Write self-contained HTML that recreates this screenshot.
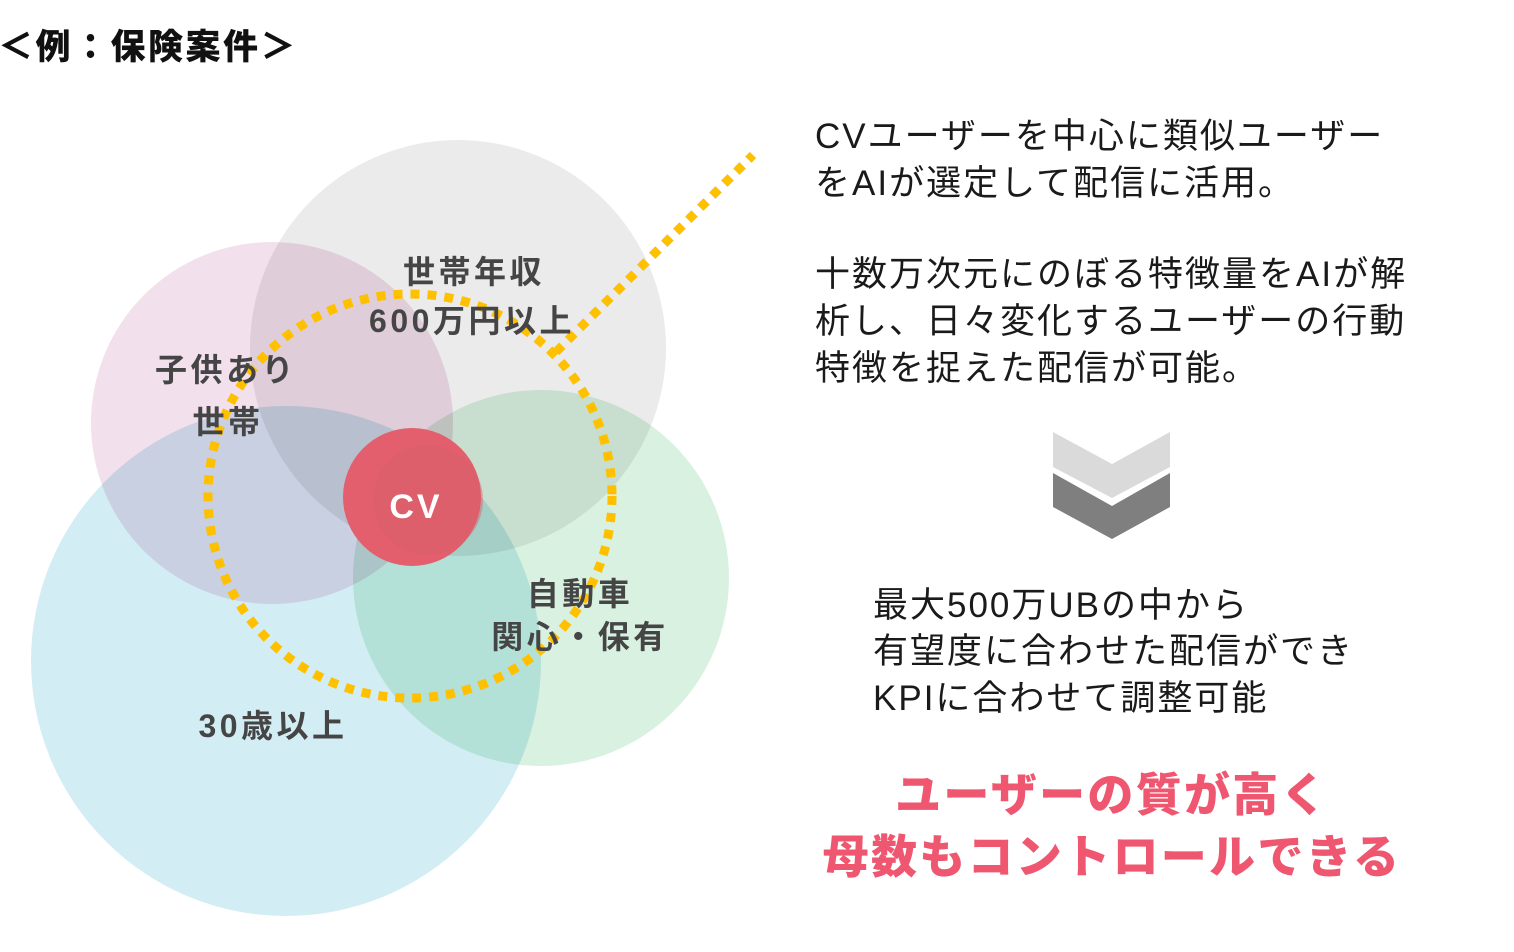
<!DOCTYPE html>
<html>
<head>
<meta charset="utf-8">
<style>
  html,body{margin:0;padding:0;background:#fff;}
  body{width:1514px;height:952px;overflow:hidden;}
  svg{display:block;isolation:isolate;}
  .jp{font-family:"Liberation Sans","Noto Sans CJK JP",sans-serif;}
  .lbl{font-family:"Liberation Sans","Noto Sans CJK JP",sans-serif;font-weight:bold;font-size:32px;fill:#454545;letter-spacing:3.5px;}
  .rt{font-family:"Liberation Sans","Noto Sans CJK JP",sans-serif;font-size:35px;fill:#1a1a1a;letter-spacing:2px;}
  .red{font-family:"Liberation Sans","Noto Sans CJK JP",sans-serif;font-weight:900;font-size:46px;fill:#ef5670;letter-spacing:2.3px;}
</style>
</head>
<body>
<svg width="1514" height="952" viewBox="0 0 1514 952" xmlns="http://www.w3.org/2000/svg">
  <!-- title -->
  <text x="-2" y="59" class="jp" font-weight="900" font-size="35" fill="#111" letter-spacing="2.5">＜例：保険案件＞</text>

  <!-- venn circles -->
  <g>
    <circle cx="458" cy="348" r="208" fill="#ebebeb" style="mix-blend-mode:multiply"/>
    <circle cx="272" cy="423" r="181" fill="#f2e0ec" style="mix-blend-mode:multiply"/>
    <circle cx="541" cy="578" r="188" fill="#d9f1e1" style="mix-blend-mode:multiply"/>
    <circle cx="286" cy="661" r="255" fill="#d3edf4" style="mix-blend-mode:multiply"/>
  </g>

  <!-- CV circle -->
  <circle cx="412" cy="497" r="69" fill="#e35f6d"/>
  <circle cx="428" cy="500" r="55" fill="#d8606a" opacity="0.45"/>
  <text x="416" y="518" text-anchor="middle" font-family="Liberation Sans, sans-serif" font-weight="bold" font-size="34" fill="#fff" letter-spacing="3">CV</text>

  <!-- dotted orange circle and line -->
  <circle cx="410" cy="496" r="202" fill="none" stroke="#ffc000" stroke-width="9" stroke-dasharray="9 8"/>
  <line x1="556" y1="352" x2="753" y2="155" stroke="#ffc000" stroke-width="9" stroke-dasharray="9 8"/>

  <!-- labels -->
  <text x="474" y="283" text-anchor="middle" class="lbl">世帯年収</text>
  <text x="472" y="332" text-anchor="middle" class="lbl">600万円以上</text>
  <text x="226" y="381" text-anchor="middle" class="lbl">子供あり</text>
  <text x="228" y="433" text-anchor="middle" class="lbl">世帯</text>
  <text x="580" y="605" text-anchor="middle" class="lbl">自動車</text>
  <text x="580" y="648" text-anchor="middle" class="lbl">関心・保有</text>
  <text x="273" y="737" text-anchor="middle" class="lbl">30歳以上</text>

  <!-- right text -->
  <text x="815" y="148" class="rt">CVユーザーを中心に類似ユーザー</text>
  <text x="815" y="195" class="rt">をAIが選定して配信に活用。</text>
  <text x="815" y="286" class="rt">十数万次元にのぼる特徴量をAIが解</text>
  <text x="815" y="333" class="rt">析し、日々変化するユーザーの行動</text>
  <text x="815" y="380" class="rt">特徴を捉えた配信が可能。</text>

  <!-- chevrons -->
  <polygon points="1053,432 1112,464 1170,432 1170,467 1112,498 1053,467" fill="#dadada"/>
  <polygon points="1053,473 1112,506 1170,473 1170,507 1112,539 1053,507" fill="#7f7f7f"/>

  <text x="873" y="617" class="rt">最大500万UBの中から</text>
  <text x="873" y="663" class="rt">有望度に合わせた配信ができ</text>
  <text x="873" y="710" class="rt">KPIに合わせて調整可能</text>

  <text x="1112" y="811" text-anchor="middle" class="red">ユーザーの質が高く</text>
  <text x="1112" y="873" text-anchor="middle" class="red">母数もコントロールできる</text>
</svg>
</body>
</html>
